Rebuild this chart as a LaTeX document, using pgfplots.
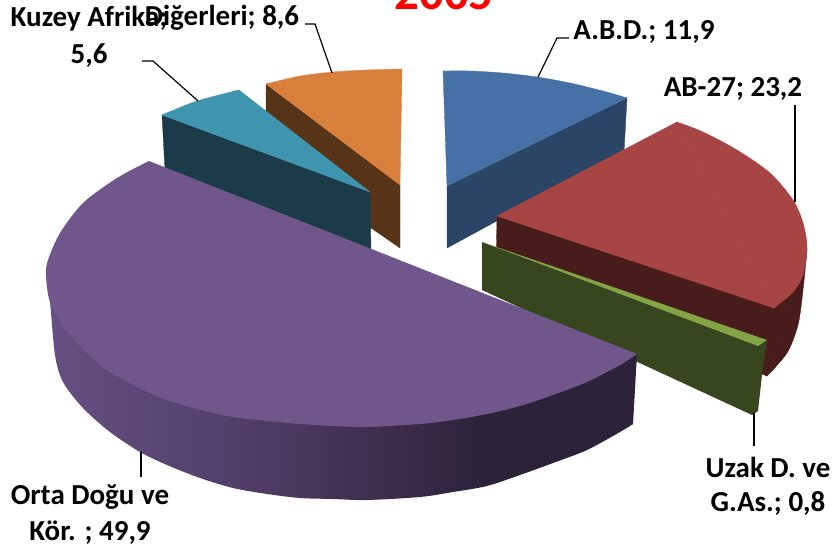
\documentclass[border=0pt]{standalone}
\usepackage{pgfplots}
\pgfplotsset{compat=1.18}
\usepackage{fontspec}
\setmainfont{Carlito}
\definecolor{bluetop}{HTML}{4671A6}
\definecolor{blueside}{HTML}{2A4566}
\definecolor{redtop}{HTML}{A64543}
\definecolor{redside}{HTML}{471C1A}
\definecolor{greentop}{HTML}{83A444}
\definecolor{greenside}{HTML}{38461F}
\definecolor{purtop}{HTML}{71568C}
\definecolor{tealtop}{HTML}{4095AE}
\definecolor{tealside}{HTML}{1B3B49}
\definecolor{ortop}{HTML}{D8803B}
\definecolor{orside}{HTML}{573318}
\definecolor{pa}{HTML}{665083}
\definecolor{pb}{HTML}{4F3C66}
\definecolor{pc}{HTML}{3C2B49}
\definecolor{pd}{HTML}{2C233B}
\pgfdeclarehorizontalshading{pur}{100bp}{color(0bp)=(pa);color(25bp)=(pa);color(43bp)=(pb);color(55bp)=(pc);color(62bp)=(pd);color(75bp)=(pd);color(100bp)=(pd)}
\tikzset{lab/.style={font=\fontsize{29bp}{34bp}\selectfont\bfseries,anchor=center,inner sep=0pt},
  pc/.style={fill=#1,draw=#1,line width=0.35pt}}
\begin{document}
\begin{tikzpicture}
\useasboundingbox (0,0) rectangle (836bp,550bp);
\begin{axis}[at={(0,0)},anchor=south west,scale only axis,width=836bp,height=550bp,
  xmin=0,xmax=836,ymin=0,ymax=550,y dir=reverse,hide axis,clip=true]
% blue
\addplot[pc=blueside] coordinates {(447,186)(627,98)(624,152)(447,248)} --cycle;
\addplot[pc=bluetop] coordinates {(443,71)(627,98)(447,186)} --cycle;
\addplot[pc=bluetop,smooth] coordinates {(443,71)(470,71)(503,73)(537,77)(570,83)(603,91)(627,98)} --cycle;
% orange
\addplot[pc=orside] coordinates {(266,84)(400,185)(400,248)(266,155)} --cycle;
\addplot[pc=ortop] coordinates {(266,84)(402,69)(400,185)} --cycle;
\addplot[pc=ortop,smooth] coordinates {(266,84)(300,76)(333,72)(367,70)(402,69)} --cycle;
% teal
\addplot[pc=tealside] coordinates {(162,115)(370,192)(371,250)(165,170)} --cycle;
\addplot[pc=tealtop] coordinates {(162,115)(239,90)(370,192)} --cycle;
\addplot[pc=tealtop,smooth] coordinates {(162,115)(197,101)(239,90)} --cycle;
% red
\addplot[pc=redside] coordinates {(497,216)(774,308)(803,275)(807,250)(767,376)(496,270)} --cycle;
\addplot[pc=redside,smooth] coordinates {(807,250)(803,290)(798,325)(787,353)(767,376)} --cycle;
\addplot[pc=redtop] coordinates {(497,216)(677,122)(774,308)} --cycle;
\addplot[pc=redtop,smooth] coordinates {(677,122)(703,132)(737,150)(770,173)(793,200)(803,223)(807,247)(803,275)(793,292)(774,308)} --cycle;
% green
\addplot[fill=greenside,draw=none] coordinates {(482,242)(758,346)(767,340)(762,375)(758,411)(752,415)(482,290)} --cycle;
\addplot[fill=greentop,draw=none] coordinates {(482,242)(767,340)(758,346)} --cycle;
% purple
\addplot[fill=pd,draw=none] coordinates {(637,354)(633,424)(520,460)(480,390)} --cycle;
\addplot[shade,shading=pur,draw=none,smooth] coordinates {(46,275)(50,302)(55,355)(63,382)(83,408)(110,432)(140,452)(167,465)(200,478)(233,488)(267,494)(300,498)(333,499)(367,500)(420,497)(453,492)(487,486)(520,475)(553,463)(587,450)(620,432)(633,424)};
\addplot[fill=purtop,draw=none,smooth] coordinates {(149,161)(117,178)(83,203)(60,233)(48,260)(46,275)(50,302)(67,332)(100,365)(133,385)(167,400)(200,410)(233,417)(267,421)(300,424)(333,426)(367,427)(420,424)(453,420)(487,414)(520,406)(553,395)(587,382)(620,365)(637,354)};
% leaders
\addplot[black,line width=1.2pt] coordinates {(305,24)(315,24)(332,73)};
\addplot[black,line width=1.2pt] coordinates {(142,61)(153,61)(198,101)};
\addplot[black,line width=1.2pt] coordinates {(569,38)(557,38)(538,77)};
\addplot[black,line width=1.2pt] coordinates {(795,105)(795,202)};
\addplot[black,line width=1.2pt] coordinates {(141,452)(141,477)};
\addplot[black,line width=1.2pt] coordinates {(754,413)(754,446)};
% labels
\node[lab] at (axis cs:89,19) {Kuzey Afrika;};
\node[lab] at (axis cs:89,55.5) {5,6};
\node[lab] at (axis cs:222,18) {Diğerleri; 8,6};
\node[lab] at (axis cs:644,32) {A.B.D.; 11,9};
\node[lab] at (axis cs:733,89) {AB-27; 23,2};
\node[lab] at (axis cs:90,497) {Orta Doğu ve};
\node[lab] at (axis cs:90,533) {Kör. ; 49,9};
\node[lab] at (axis cs:768,467) {Uzak D. ve};
\node[lab] at (axis cs:768,503) {G.As.; 0,8};
\node[font=\fontsize{49bp}{52bp}\selectfont\bfseries,text=red,anchor=center] at (axis cs:444,-6) {2005};
\end{axis}
\end{tikzpicture}
\end{document}
